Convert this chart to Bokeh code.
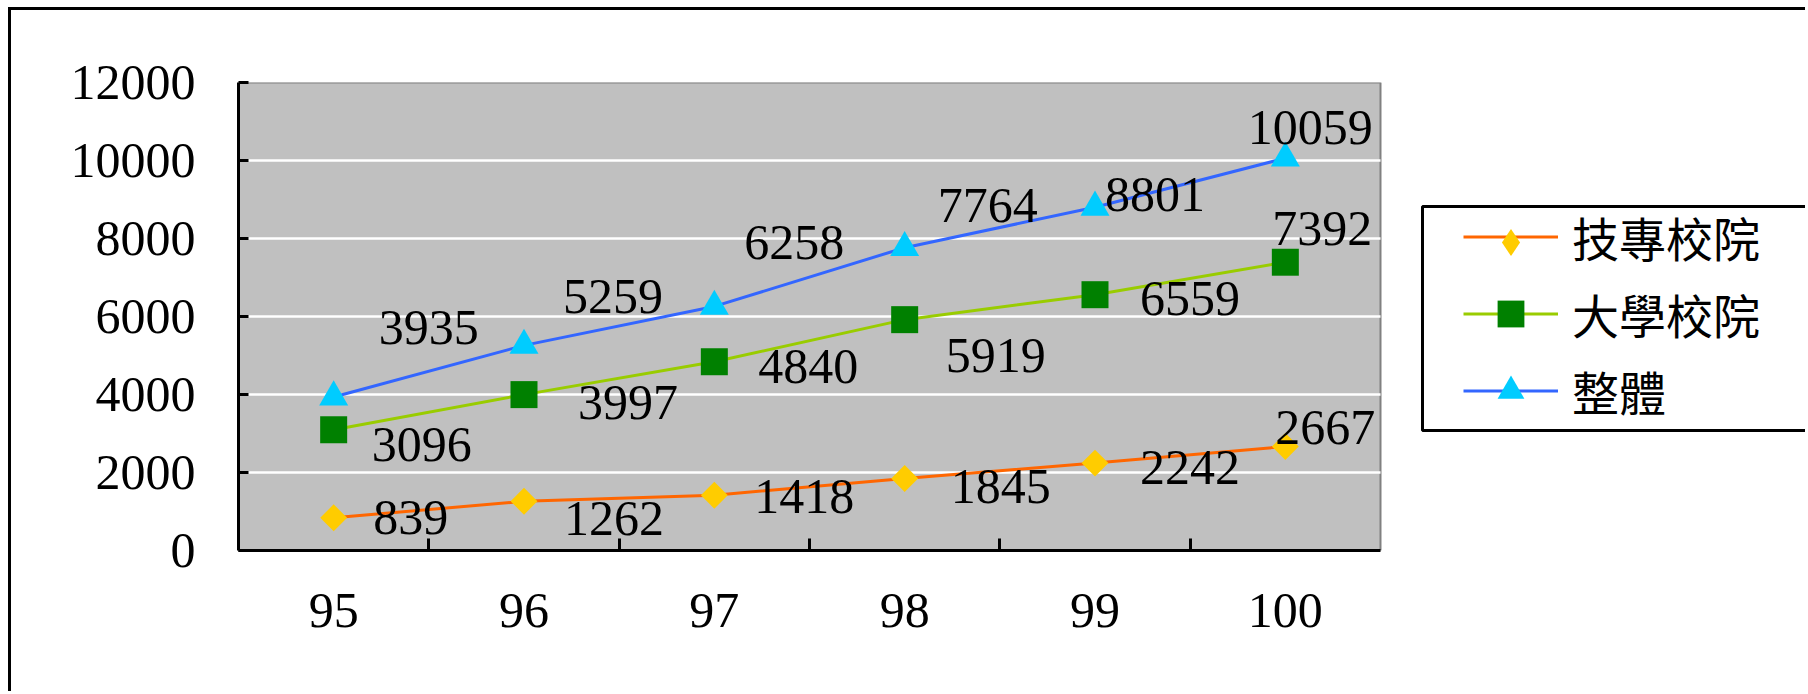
import math
from bokeh.plotting import figure
from bokeh.models import ColumnDataSource, Range1d, FixedTicker, Legend, LegendItem, BoxAnnotation
from bokeh.core.properties import value
from bokeh.embed import file_html
from bokeh.resources import INLINE

# ---- data ----
years = ["95", "96", "97", "98", "99", "100"]
tech = [839, 1262, 1418, 1845, 2242, 2667]
univ = [3096, 3997, 4840, 5919, 6559, 7392]
total = [3935, 5259, 6258, 7764, 8801, 10059]
names = ["技專校院", "大學校院", "整體"]
y_ticks = [0, 2000, 4000, 6000, 8000, 10000, 12000]

# data-label offsets in px (style)
tech_dx = [77, 90, 90, 96, 95, 40]
tech_dy = [0, 17, 1, 8, 4, -19]
univ_dx = [88, 104, 94, 91, 95, 37]
univ_dy = [15, 8, 5, 36, 4, -34]
total_dx = [95, 89, 80, 83, 60, 25]
total_dy = [-70, -49, -64, -42, -13, -31]

NUM_FONT = "Liberation Serif"
CJK_FONT = "Noto Sans CJK TC"

# ---- layout (page px) ----
OFFX, OFFY = 11, 10          # canvas origin after the css frame line
W, H = 1797, 684
PLOT_L, PLOT_R, PLOT_T, PLOT_B = 238, 1380, 82, 550
n = len(years)
xs = list(range(n))
x_lo, x_hi = xs[0] - 0.5, xs[-1] + 0.5
px_per_unit = (PLOT_R - PLOT_L) / (x_hi - x_lo)
x_end = x_hi + (OFFX + W - PLOT_R) / px_per_unit

p = figure(width=W, height=H, output_backend="svg", toolbar_location=None,
           x_range=Range1d(x_lo, x_end), y_range=Range1d(y_ticks[0], y_ticks[-1]),
           min_border_left=PLOT_L - OFFX, min_border_right=0,
           min_border_top=PLOT_T - OFFY, min_border_bottom=OFFY + H - PLOT_B,
           background_fill_color="white", border_fill_color="white")
p.outline_line_color = None
p.grid.visible = False
p.styles = {"margin-left": "8px", "margin-top": "7px",
            "border-left": "3px solid black", "border-top": "3px solid black"}

# plot-area background with grey top/right border
p.quad(left=[x_lo], right=[x_hi], bottom=[y_ticks[0]], top=[y_ticks[-1]],
       fill_color="#C0C0C0", line_color="#808080", line_width=2)
# white gridlines
gy = y_ticks[1:-1]
p.segment(x0=[x_lo] * len(gy), x1=[x_hi] * len(gy), y0=gy, y1=gy,
          line_color="white", line_width=2.5)

xa = p.xaxis[0]
xa.bounds = (x_lo, x_hi)
xa.ticker = FixedTicker(ticks=xs, minor_ticks=[i + 0.5 for i in xs[:-1]])
xa.major_label_overrides = {i: y for i, y in zip(xs, years)}
xa.major_tick_line_color = None
xa.minor_tick_in = 12
xa.minor_tick_out = 0
xa.minor_tick_line_color = "black"
xa.minor_tick_line_width = 3
xa.axis_line_color = "black"
xa.axis_line_width = 3
xa.major_label_text_font = NUM_FONT
xa.major_label_text_font_size = "50px"
xa.major_label_text_color = "black"
xa.major_label_standoff = 37

ya = p.yaxis[0]
ya.ticker = FixedTicker(ticks=y_ticks)
ya.major_tick_in = 10
ya.major_tick_out = 0
ya.major_tick_line_color = "black"
ya.major_tick_line_width = 3
ya.minor_tick_line_color = None
ya.axis_line_color = "black"
ya.axis_line_width = 3
ya.major_label_text_font = NUM_FONT
ya.major_label_text_font_size = "50px"
ya.major_label_text_color = "black"
ya.major_label_standoff = 43

src = ColumnDataSource(dict(x=xs, tech=tech, univ=univ, total=total))

r_tl = p.line("x", "tech", source=src, line_color="#FF6600", line_width=3)
r_ts = p.scatter("x", "tech", source=src, marker="square", angle=math.pi / 4, size=19,
                 fill_color="#FFCC00", line_color=None)
r_ul = p.line("x", "univ", source=src, line_color="#99CC00", line_width=3)
r_us = p.scatter("x", "univ", source=src, marker="square", size=27,
                 fill_color="#008000", line_color=None)
r_al = p.line("x", "total", source=src, line_color="#3366FF", line_width=3)
r_as = p.scatter("x", "total", source=src, marker="triangle", size=29,
                 fill_color="#00CCFF", line_color=None)

lab = ColumnDataSource(dict(
    x=xs * 3,
    y=tech + univ + total,
    text=[str(v) for v in tech + univ + total],
    dx=tech_dx + univ_dx + total_dx,
    dy=tech_dy + univ_dy + total_dy,
))
p.text("x", "y", "text", source=lab, x_offset="dx", y_offset="dy",
       text_align="center", text_baseline="middle",
       text_font=value(NUM_FONT), text_font_size="50px", text_color="black")

# legend swatch for the diamond marker (legend swatches ignore marker angle);
# hidden in the plot itself, shown only in the legend
r_tleg = p.scatter("x", "tech", source=src, marker="diamond", size=27,
                   fill_color="#FFCC00", line_color=None, visible=False)

# legend box (page px 1419..1806 x 203..427)
p.add_layout(BoxAnnotation(left=1419 - OFFX, right=1806 - OFFX, top=203 - OFFY, bottom=427 - OFFY,
                           left_units="canvas", right_units="canvas",
                           top_units="canvas", bottom_units="canvas",
                           fill_color="white", fill_alpha=1.0,
                           line_color="black", line_width=3, line_alpha=1.0,
                           level="underlay"))

legA = Legend(items=[LegendItem(label=names[0], renderers=[r_tl]),
                     LegendItem(label=names[1], renderers=[r_ul, r_us]),
                     LegendItem(label=names[2], renderers=[r_al, r_as])],
              location=(1463 - PLOT_L, PLOT_B - 425), orientation="vertical",
              border_line_color=None, background_fill_alpha=0.0,
              padding=0, margin=0, spacing=8,
              glyph_width=95, glyph_height=67, label_height=67, label_standoff=14,
              label_text_font=CJK_FONT, label_text_font_size="47px", label_text_color="black")
legB = Legend(items=[LegendItem(label=" ", renderers=[r_tleg])],
              location=(1463 - PLOT_L, PLOT_B - 276), orientation="vertical",
              border_line_color=None, background_fill_alpha=0.0,
              inactive_fill_alpha=0.0, click_policy="none",
              padding=0, margin=0, spacing=0,
              glyph_width=95, glyph_height=68, label_height=0, label_standoff=0,
              label_text_font_size="1px")
p.add_layout(legA)
p.add_layout(legB)

open("out.html", "w").write(file_html(p, INLINE))
